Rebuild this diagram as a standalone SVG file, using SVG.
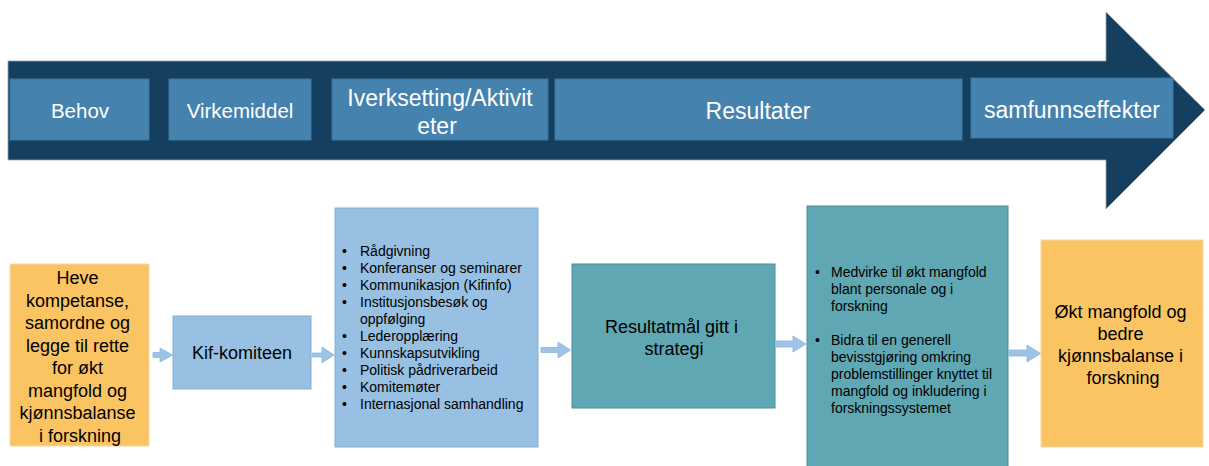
<svg xmlns="http://www.w3.org/2000/svg" width="1209" height="466" viewBox="0 0 1209 466">
  <style>
    .phase { fill: #4682AE; stroke: #3D76A2; stroke-width: 1; }
    .phase-label { font-family: "Liberation Sans", Arial, sans-serif; fill: #FFFFFF; text-anchor: middle; }
    .need { fill: #FBC463; stroke: #F5D9A6; stroke-width: 1; }
    .light { fill: #97C0E2; stroke: #86AFD2; stroke-width: 1; }
    .teal { fill: #5FA7B2; stroke: #4E8C96; stroke-width: 1; }
    .t18 { font-family: "Liberation Sans", Arial, sans-serif; font-size: 18px; fill: #000000; text-anchor: middle; }
    .t14 { font-family: "Liberation Sans", Arial, sans-serif; font-size: 14px; fill: #000000; }
    .flow { fill: #9DC3E6; stroke: #8DB5D9; stroke-width: 0.8; }
  </style>

  <!-- timeline banner -->
  <g id="timeline">
    <polygon points="8,61 1106,61 1106,12 1205,110 1106,209 1106,160 8,160" fill="#143F5E" stroke="#9AA6B0" stroke-width="0.8"/>
  </g>

  <g id="phase-behov">
    <rect class="phase" x="10" y="79" width="139" height="61"/>
    <text class="phase-label" x="80" y="118" font-size="20.5">Behov</text>
  </g>
  <g id="phase-virkemiddel">
    <rect class="phase" x="169" y="79" width="142" height="61"/>
    <text class="phase-label" x="240" y="118" font-size="20.5">Virkemiddel</text>
  </g>
  <g id="phase-iverksetting">
    <rect class="phase" x="332" y="79" width="216" height="61"/>
    <text class="phase-label" x="440" y="106" font-size="23">Iverksetting/Aktivit</text>
    <text class="phase-label" x="437" y="134" font-size="23">eter</text>
  </g>
  <g id="phase-resultater">
    <rect class="phase" x="555" y="79" width="407" height="61"/>
    <text class="phase-label" x="758" y="119" font-size="23">Resultater</text>
  </g>
  <g id="phase-samfunnseffekter">
    <rect class="phase" x="971" y="78" width="202" height="60"/>
    <text class="phase-label" x="1072" y="118" font-size="23">samfunnseffekter</text>
  </g>

  <!-- flow chain -->
  <g id="need">
    <rect class="need" x="10" y="264" width="139" height="182"/>
    <text class="t18">
      <tspan x="80" y="284">Heve</tspan>
      <tspan x="80" y="306.5">kompetanse,</tspan>
      <tspan x="80" y="329">samordne og</tspan>
      <tspan x="80" y="351.5">legge til rette</tspan>
      <tspan x="80" y="374">for økt</tspan>
      <tspan x="80" y="396.5">mangfold og</tspan>
      <tspan x="80" y="419">kjønnsbalanse</tspan>
      <tspan x="80" y="441.5">i forskning</tspan>
    </text>
  </g>

  <g id="kif-komiteen">
    <rect class="light" x="173" y="316" width="138" height="73"/>
    <text class="t18" x="242" y="359">Kif-komiteen</text>
  </g>

  <g id="activities">
    <rect class="light" x="335" y="208" width="203" height="239"/>
    <g class="t14">
      <text x="342" y="256">•</text><text x="360" y="256">Rådgivning</text>
      <text x="342" y="273">•</text><text x="360" y="273">Konferanser og seminarer</text>
      <text x="342" y="290">•</text><text x="360" y="290">Kommunikasjon (Kifinfo)</text>
      <text x="342" y="307">•</text><text x="360" y="307">Institusjonsbesøk og</text>
      <text x="360" y="324">oppfølging</text>
      <text x="342" y="341">•</text><text x="360" y="341">Lederopplæring</text>
      <text x="342" y="358">•</text><text x="360" y="358">Kunnskapsutvikling</text>
      <text x="342" y="375">•</text><text x="360" y="375">Politisk pådriverarbeid</text>
      <text x="342" y="392">•</text><text x="360" y="392">Komitemøter</text>
      <text x="342" y="409">•</text><text x="360" y="409">Internasjonal samhandling</text>
    </g>
  </g>

  <g id="resultatmal">
    <rect class="teal" x="572" y="264" width="203" height="144"/>
    <text class="t18">
      <tspan x="674" y="333">Resultatmål gitt i</tspan>
      <tspan x="674" y="355">strategi</tspan>
    </text>
  </g>

  <g id="results">
    <rect class="teal" x="807" y="206" width="201" height="270"/>
    <g class="t14">
      <text x="815" y="277">•</text><text x="831" y="277">Medvirke til økt mangfold</text>
      <text x="831" y="294">blant personale og i</text>
      <text x="831" y="311">forskning</text>
      <text x="815" y="345">•</text><text x="831" y="345">Bidra til en generell</text>
      <text x="831" y="362">bevisstgjøring omkring</text>
      <text x="831" y="379">problemstillinger knyttet til</text>
      <text x="831" y="396">mangfold og inkludering i</text>
      <text x="831" y="413">forskningssystemet</text>
    </g>
  </g>

  <g id="impact">
    <rect class="need" x="1041" y="240" width="162" height="207"/>
    <text class="t18">
      <tspan x="1123" y="318">Økt mangfold og</tspan>
      <tspan x="1123" y="340">bedre</tspan>
      <tspan x="1123" y="362">kjønnsbalanse i</tspan>
      <tspan x="1123" y="384">forskning</tspan>
    </text>
  </g>

  <!-- connectors -->
  <g id="connectors">
    <polygon class="flow" points="153,352.5 160,352.5 160,348 172.5,355 160,362 160,357.5 153,357.5"/>
    <polygon class="flow" points="312,353 322,353 322,347 334,355 322,363 322,357 312,357"/>
    <polygon class="flow" points="541,347.5 558,347.5 558,342 570.5,350 558,358 558,352.5 541,352.5"/>
    <polygon class="flow" points="776,341 793,341 793,336 806,344 793,352 793,347 776,347"/>
    <polygon class="flow" points="1009,350 1027,350 1027,345 1040.5,353.5 1027,362 1027,356 1009,356"/>
  </g>
</svg>
